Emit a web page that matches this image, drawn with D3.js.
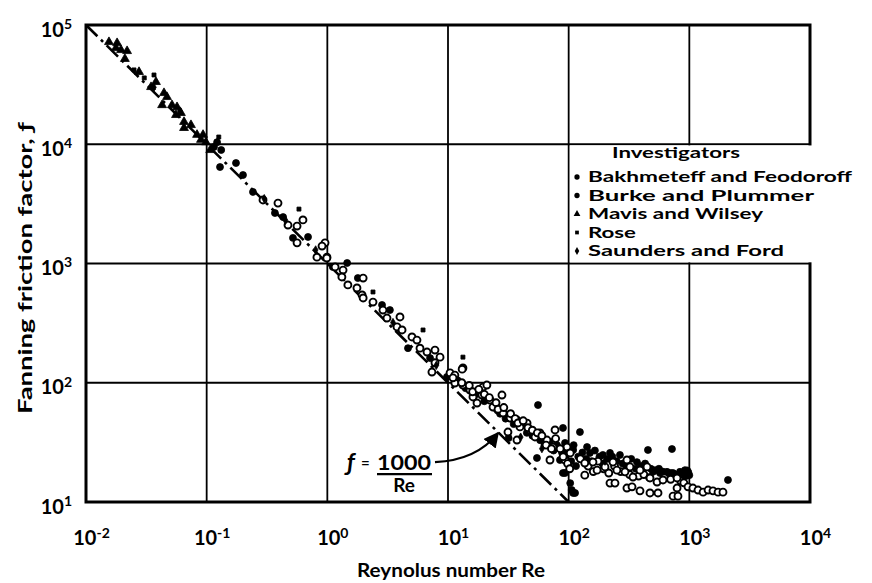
<!DOCTYPE html>
<html><head><meta charset="utf-8">
<script src="https://cdn.jsdelivr.net/npm/d3@7/dist/d3.min.js"></script>
<style>
body{margin:0;background:#fff}
svg{display:block}
text{font-family:Lato,"DejaVu Sans",sans-serif;font-weight:700;fill:#000}
</style>
</head><body>
<svg id="c" width="872" height="583"></svg>
<script>
// ---------- data ----------
const xTickExponents = [-2, -1, 0, 1, 2, 3, 4];
const yTickExponents = [1, 2, 3, 4, 5];
const seriesNames = ["Bakhmeteff and Feodoroff", "Burke and Plummer", "Mavis and Wilsey", "Rose", "Saunders and Ford"];
const xTitle = "Reynolus number Re";
const yTitle = "Fanning friction factor, \u0192";
const legendTitle = "Investigators";
const laminarRe = [0.01, 100];          // f = 1000/Re
const laminarConst = 1000;

// Bakhmeteff and Feodoroff (open circles) [Re, f]
const bakhmeteff = [
 [0.293,3410],[0.39,3210],[0.628,2320],[0.472,2100],[0.561,2060],[0.561,1490],[0.957,1490],[0.82,1130],[0.993,1130],
 [0.904,1400],[0.99,1110],[1.16,935],[1.35,881],[1.32,771],[1.48,661],[1.98,755],[1.76,624],[1.94,545],[1.98,514],
 [2.39,475],[2.89,407],[3.12,349],[4.0,356],[3.78,294],[4.16,277],[5.03,242],[5.53,228],[5.86,195],[6.7,181],
 [7.8,188],[8.59,164],[7.8,147],[7.36,123],[10.4,121],[11.4,116],[13.3,133],[13.1,130],[11.4,99.5],[13.3,95.7],
 [15.2,86.9],[16.1,76],[19.5,92],[21,95.7],[19.1,78.9],[22.3,71.6],[28,78.9],[25.9,59],[28.6,55.7],[32.7,50.6],
 [37.3,48.7],[39.5,42.6],[31.4,38.6],[45.2,45.9],[47.8,40.2],[52.6,35.1],[57.8,37.9],[66.1,33.1],[77.1,40.2],
 [74.1,28.9],[70,22.5],[96.8,28.9],[93.3,22.5],[103,25.8],[23.6,62.6],[17.4,67.6],[37.3,33.1],
 [11,110],[13,100],[15,95],[16,84],[18,88],[20,80],[22,75],[25,68],[26,60],[29,62],[33,55],[36,50],[38,46],[42,48],
 [46,42],[50,40],[55,38],[60,36],[65,30],[72,28],[78,34],[85,28],[90,24],[98,21],[102,19],
 [125,23],[145,20],[160,18],[175,22],[195,19],[215,17.5],[240,20],[270,18],[320,17],[380,16.5],[420,17],[470,16],
 [620,16],[700,15.5],[850,15],[900,14.5],
 [136,21.2],[159,21.6],[136,16.8],[172,18.5],[200,19.7],[233,21.6],[251,18.5],[304,22.5],[322,19.7],[293,17.9],
 [390,18.5],[341,16.2],[446,19.7],[472,15.9],[540,14.7],[605,15.3],[791,15.9],[220,14.4],[242,14.4],[304,13.1],
 [335,13.4],[390,12.4],[472,11.9],[550,11.9],[733,11.2],[805,11.2],[791,13.1],[975,13.4],[1070,13.1],[1180,12.6],
 [1300,12.1],[1430,12.6],[1570,12.4],[1730,12.1],[1900,12.1]
];
// Burke and Plummer (filled circles)
const burke = [
 [0.122,10400],[0.115,9480],[0.132,8950],[0.175,6960],[0.129,6440],[0.2,5520],[0.242,3980],[0.368,2650],[0.43,2450],
 [0.519,1640],[0.692,1670],[1.11,935],[1.46,1010],[1.79,755],[2.84,449],[3.3,407],[4.66,195],[7.1,161],[9.8,112],
 [55.7,65],[54.6,23.4],[31.8,34.4],[93.3,17.5],[109,11.9],[106,12.6],[113,11.9],[103,14.4],[89.7,17.5],[84.7,22.5],
 [124,38.6],[454,27.3],[718,27.8],[2090,15.3],
 [12,105],[14,90],[17,80],[20,70],[24,62],[27,55],[30,50],[35,45],[40,44],[45,38],[50,36],[58,33],[63,30],[70,32],
 [75,27],[80,30],[88,26],[95,25],
 [89.7,41.8],[93.3,31.3],[96.8,25.8],[109,27.3],[142,28.9],[150,25.8],[192,24.8],[220,25.8],[266,24.8],[368,21.6],
 [500,17.9],[571,17.5],[653,17.9],[733,17.5],[836,17.9],[920,18.5],
 [105,22],[110,30],[115,20],[120,24],[130,26],[140,23],[155,22],[165,27],[180,24],[190,21],[210,23],[230,24],
 [250,22],[280,21],[300,20],[330,23],[360,19],[400,20],[430,21],[480,19],[520,18.5],[560,19],[600,18],[650,17],
 [700,17.5],[760,17],[820,16.8],[880,17.2],[940,16.5],[980,17.8],[1000,16.8],[960,18.4]
];
// Mavis and Wilsey (triangles)
const mavis = [
 [0.0181,70600],[0.0195,61700],[0.0219,60500],[0.0177,64100],[0.0275,40400],[0.038,33300],[0.0346,30200],
 [0.0443,26900],[0.0469,24900],[0.0427,21300],[0.0516,21300],[0.0568,20500],[0.0612,18300],[0.0557,17600],
 [0.0649,15400],[0.0741,14500],[0.0649,13700],[0.0832,12000],[0.0897,10900],[0.0986,10400],[0.0933,12000],
 [0.107,8950],[0.0155,72000],[0.021,52000]
];
// Rose (squares)
const rose = [
 [0.025,42000],[0.0366,38100],[0.126,11500],[0.582,2860],[2.39,577],[6.21,277],[13.3,164],[0.0304,36000]
];
// Saunders and Ford (diamonds)
const saunders = [
 [0.3,3500],[0.45,2300],[0.8,1300],[3.5,320],[8,140],[40,35],[60,28],[200,22],[0.0365,30000],[0.06,19000]
];

// ---------- chart ----------
const svg = d3.select("#c");
const x = d3.scaleLog().domain([1e-2, 1e4]).range([86, 810]);
const y = d3.scaleLog().domain([10, 1e5]).range([502, 25]);
const xt = xTickExponents.map(e => Math.pow(10, e));
const yt = yTickExponents.map(e => Math.pow(10, e));

// grid
svg.append("g").selectAll("line").data(xt.slice(1, -1)).join("line")
  .attr("x1", d => x(d)).attr("x2", d => x(d)).attr("y1", y(1e5)).attr("y2", y(10))
  .attr("stroke", "#000").attr("stroke-width", 1.8);
svg.append("g").selectAll("line").data(yt.slice(1, -1)).join("line")
  .attr("y1", d => y(d)).attr("y2", d => y(d)).attr("x1", x(1e-2)).attr("x2", x(1e4))
  .attr("stroke", "#000").attr("stroke-width", 1.8);

// laminar line
svg.append("path")
  .attr("d", d3.line().x(d => x(d)).y(d => y(laminarConst / d))(laminarRe))
  .attr("fill", "none").attr("stroke", "#000").attr("stroke-width", 2.6)
  .attr("stroke-dasharray", "16,5,3,5");

// points
function drawSeries(data, type, size, fill) {
  const sym = d3.symbol().type(type).size(size);
  svg.append("g").selectAll("path").data(data).join("path")
    .attr("transform", d => `translate(${x(d[0])},${y(d[1])})`)
    .attr("d", sym)
    .attr("fill", fill).attr("stroke", "#000").attr("stroke-width", fill === "#fff" ? 1.9 : 0.8);
}
drawSeries(burke, d3.symbolCircle, 38, "#000");
drawSeries(bakhmeteff, d3.symbolCircle, 38, "#fff");
drawSeries(mavis, d3.symbolTriangle, 34, "#000");
drawSeries(rose, d3.symbolSquare, 16, "#000");
drawSeries(saunders, d3.symbolDiamond, 20, "#000");

// border
svg.append("rect").attr("x", x(1e-2)).attr("y", y(1e5))
  .attr("width", x(1e4) - x(1e-2)).attr("height", y(10) - y(1e5))
  .attr("fill", "none").attr("stroke", "#000").attr("stroke-width", 3);

// legend
const lx = x(100), ly0 = y(1e4), ly1 = y(1e3);
svg.append("rect").attr("x", lx + 1.2).attr("y", ly0 + 1.2)
  .attr("width", 862 - lx).attr("height", ly1 - ly0 - 2.4).attr("fill", "#fff");
svg.append("text").attr("x", 612).attr("y", 158).attr("font-size", 15.5)
  .attr("textLength", 128).attr("lengthAdjust", "spacingAndGlyphs").text(legendTitle);
const legTypes = [d3.symbolCircle, d3.symbolCircle, d3.symbolTriangle, d3.symbolSquare, d3.symbolDiamond];
const legSizes = [22, 22, 20, 14, 18];
const legWidths = [264, 226, 175, 48, 196];
seriesNames.forEach((name, i) => {
  const by = 182 + i * 18.5;
  svg.append("path").attr("transform", `translate(577,${by - 5})`)
    .attr("d", d3.symbol().type(legTypes[i]).size(legSizes[i])()).attr("fill", "#000");
  svg.append("text").attr("x", 588).attr("y", by).attr("font-size", 15.5)
    .attr("textLength", legWidths[i]).attr("lengthAdjust", "spacingAndGlyphs").text(name);
});

// axes
function supLabels(sel, exps) {
  sel.selectAll(".tick text").each(function(d, i) {
    const t = d3.select(this).text(null);
    t.append("tspan").text("10");
    t.append("tspan").attr("dy", "-0.55em").attr("font-size", 14).text(String(exps[i]));
  });
}
const gx = svg.append("g").attr("transform", `translate(0,${y(10)})`)
  .call(d3.axisBottom(x).tickValues(xt).tickSize(0).tickPadding(29).tickFormat(() => ""));
gx.select(".domain").remove();
gx.selectAll(".tick text").attr("font-size", 20).attr("font-family", "Lato,'DejaVu Sans',sans-serif")
  .attr("font-weight", 700).attr("dx", "5");
supLabels(gx, xTickExponents);

const gy = svg.append("g").attr("transform", `translate(${x(1e-2)},0)`)
  .call(d3.axisLeft(y).tickValues(yt).tickSize(0).tickPadding(14).tickFormat(() => ""));
gy.select(".domain").remove();
gy.selectAll(".tick text").attr("font-size", 20).attr("font-family", "Lato,'DejaVu Sans',sans-serif")
  .attr("font-weight", 700).attr("dy", "0.55em");
supLabels(gy, yTickExponents);

// titles
svg.append("text").attr("x", 451).attr("y", 577).attr("text-anchor", "middle").attr("font-size", 19)
  .attr("textLength", 188).attr("lengthAdjust", "spacingAndGlyphs").text(xTitle);
svg.append("text").attr("transform", "translate(32,268) rotate(-90)").attr("text-anchor", "middle")
  .attr("font-size", 19).attr("textLength", 292).attr("lengthAdjust", "spacingAndGlyphs").text(yTitle);

// annotation f = 1000/Re
const ax = x(2.58), ay = y(18.5);
const ann = svg.append("g");
ann.append("text").attr("x", ax - 30).attr("y", ay + 1).attr("font-size", 24).attr("font-style", "italic").text("\u0192");
ann.append("text").attr("x", ax - 16).attr("y", ay - 2).attr("font-size", 15).text("=");
ann.append("text").attr("x", ax).attr("y", ay).attr("font-size", 20)
  .attr("textLength", 54).attr("lengthAdjust", "spacingAndGlyphs").text("1000");
ann.append("line").attr("x1", ax).attr("x2", ax + 55).attr("y1", ay + 4).attr("y2", ay + 4)
  .attr("stroke", "#000").attr("stroke-width", 2.2);
ann.append("text").attr("x", ax + 27).attr("y", ay + 22).attr("text-anchor", "middle").attr("font-size", 19).text("Re");

svg.append("defs").append("marker").attr("id", "ah").attr("viewBox", "0 0 10 10")
  .attr("refX", 9).attr("refY", 5).attr("markerWidth", 7).attr("markerHeight", 7).attr("orient", "auto")
  .append("path").attr("d", "M0,0L10,5L0,10z").attr("fill", "#000");
const s0 = [x(7.8), y(21.6)], s1 = [x(26), y(38)];
svg.append("path")
  .attr("d", `M${s0[0]},${s0[1]} Q${s0[0] + 42},${s0[1] - 2} ${s1[0]},${s1[1]}`)
  .attr("fill", "none").attr("stroke", "#000").attr("stroke-width", 2.2).attr("marker-end", "url(#ah)");
</script>
</body></html>
